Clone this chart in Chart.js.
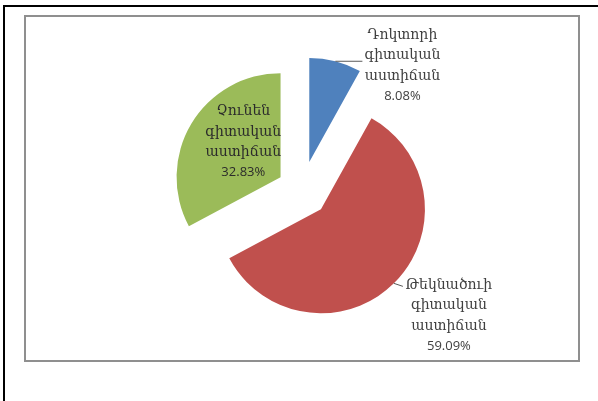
<!DOCTYPE html>
<html lang="hy">
<head>
<meta charset="UTF-8">
<title>Գիտական աստիճան</title>
<script src="https://cdn.jsdelivr.net/npm/chart.js"></script>
<style>
  body { margin: 0; background: #fff; width: 598px; height: 401px; overflow: hidden; }
  .frame {
    position: absolute; left: 3px; top: 5px; width: 640px; height: 440px;
    border-top: 2px solid #000; border-left: 2px solid #000;
  }
  .plot {
    position: absolute; left: 24px; top: 15px; width: 552px; height: 343px;
    border: 2px solid #8f8f8f;
  }
  #pie { position: absolute; left: 0; top: 0; }
</style>
</head>
<body>
<div class="frame"></div>
<div class="plot"></div>
<canvas id="pie" width="598" height="401"></canvas>

<script>
// data
const categories = ['Դոկտորի գիտական աստիճան', 'Թեկնածուի գիտական աստիճան', 'Չունեն գիտական աստիճան'];
const shares = [8.08, 59.09, 32.83];
const colors = ['#4f81bd', '#c0504d', '#9bbb59'];

// how far each slice is pulled out (px)
const explode = [29, 27, 25];

// label placement relative to the outer middle of each slice
const labelDx = [67, 55, 52];
const labelDy = [-26, 2, -12];
const leaders = [[27, 0], [9, 3], null];
const labelColors = ['#404040', '#404040', '#2b2b2b'];

const explodePlugin = {
    id: 'explode',
    afterDatasetUpdate(chart, args) {
        args.meta.data.forEach((arc, i) => {
            const mid = (arc.startAngle + arc.endAngle) / 2;
            arc.x += Math.cos(mid) * explode[i];
            arc.y += Math.sin(mid) * explode[i];
        });
    }
};

const labelPlugin = {
    id: 'sliceLabels',
    afterDatasetsDraw(chart) {
        const ctx = chart.ctx;
        chart.getDatasetMeta(0).data.forEach((arc, i) => {
            const mid = (arc.startAngle + arc.endAngle) / 2;
            const ax = arc.x + Math.cos(mid) * arc.outerRadius;
            const ay = arc.y + Math.sin(mid) * arc.outerRadius;
            ctx.save();
            if (leaders[i]) {
                ctx.strokeStyle = '#595959';
                ctx.lineWidth = 1;
                ctx.beginPath();
                ctx.moveTo(ax, ay);
                ctx.lineTo(ax + leaders[i][0], ay + leaders[i][1]);
                ctx.stroke();
            }
            const lines = categories[i].split(' ');
            lines.push(shares[i].toFixed(2) + '%');
            ctx.fillStyle = labelColors[i];
            ctx.textAlign = 'center';
            ctx.textBaseline = 'middle';
            lines.forEach((t, j) => {
                ctx.font = j < lines.length - 1 ? '14px "DejaVu Serif"' : '13px "Open Sans"';
                ctx.fillText(t, ax + labelDx[i], ay + labelDy[i] + j * 20.3);
            });
            ctx.restore();
        });
    }
};

new Chart(document.getElementById('pie'), {
    type: 'pie',
    data: {
        labels: categories,
        datasets: [{
            data: shares,
            backgroundColor: colors,
            borderWidth: 0
        }]
    },
    options: {
        responsive: false,
        animation: false,
        events: [],
        radius: 104,
        layout: { padding: { left: 100, right: 94, top: 60, bottom: 81 } },
        plugins: {
            legend: { display: false },
            tooltip: { enabled: false }
        }
    },
    plugins: [explodePlugin, labelPlugin]
});
</script>
</body>
</html>
